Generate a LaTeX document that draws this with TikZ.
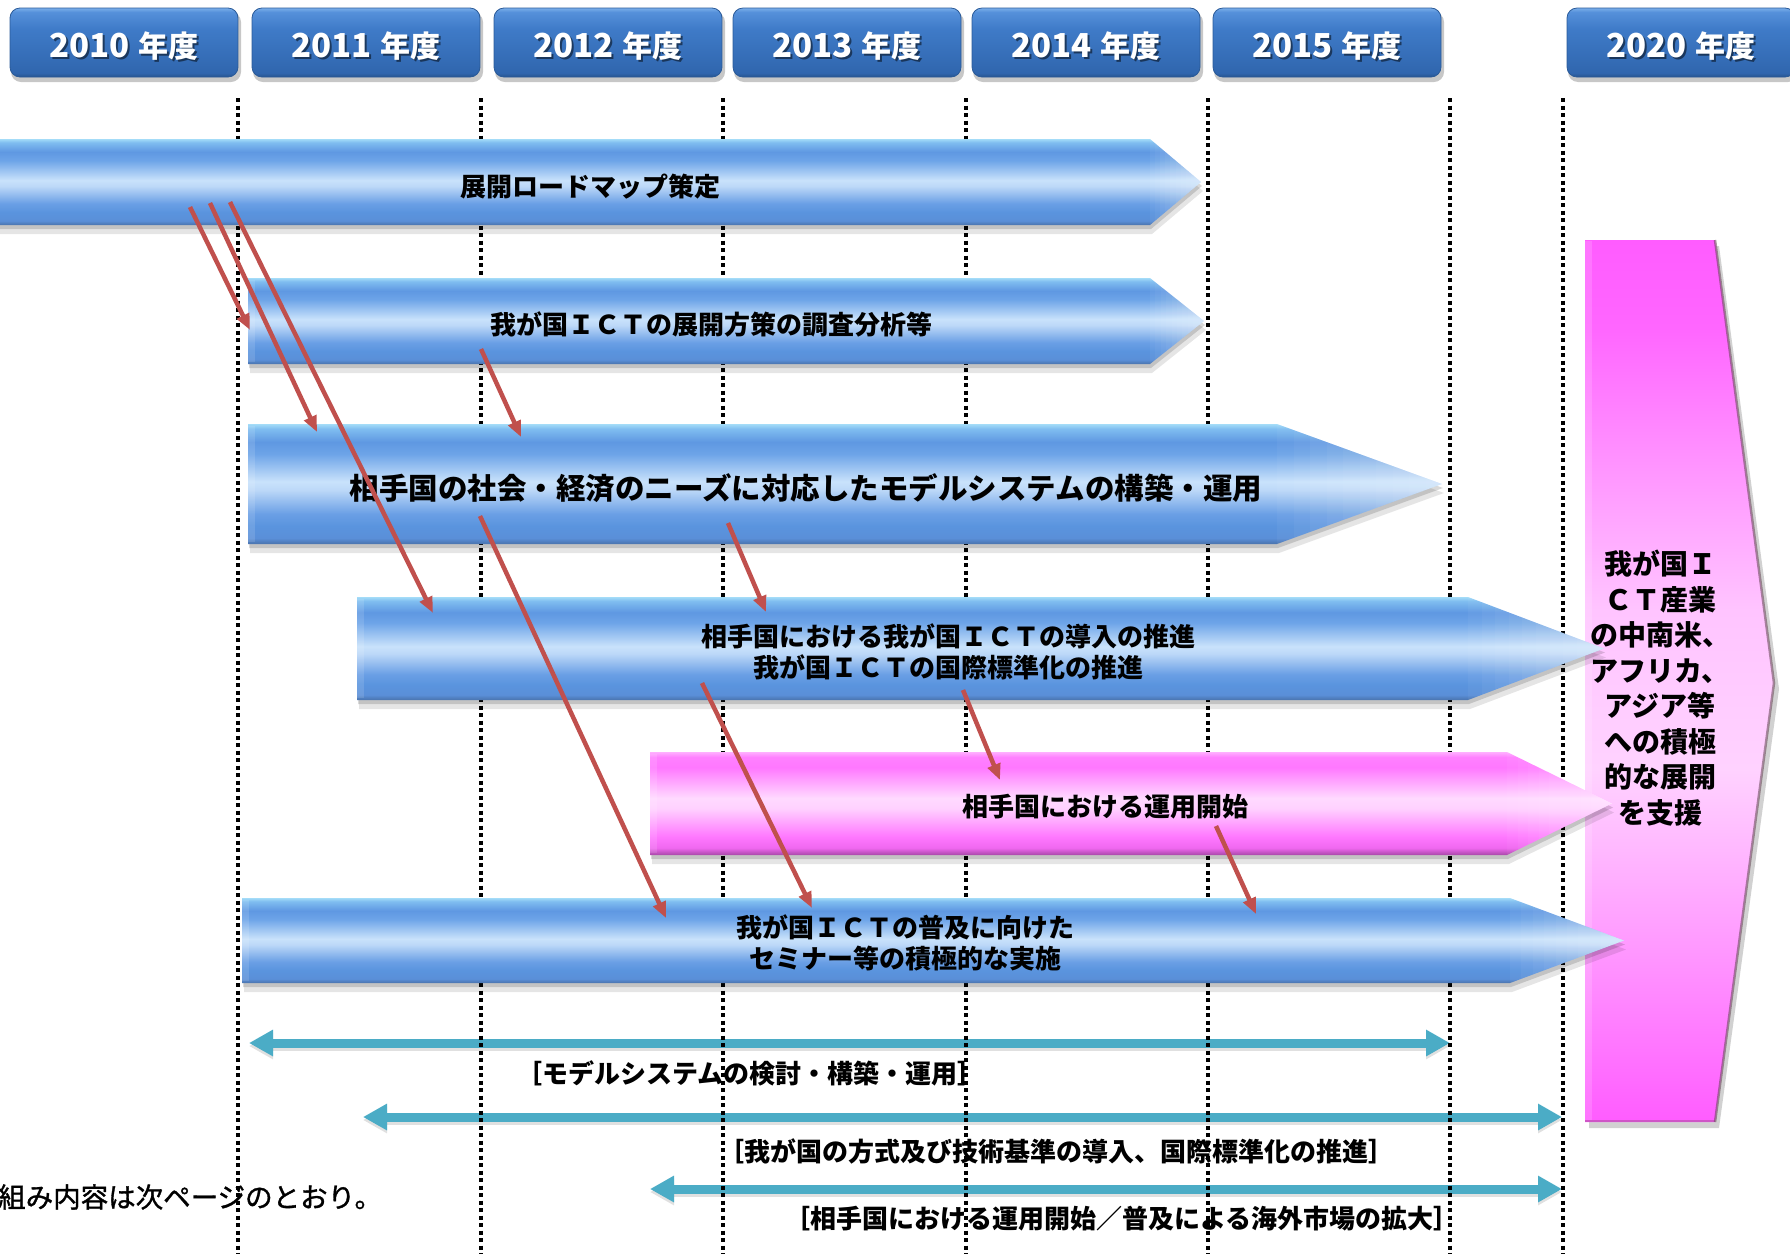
\documentclass[tikz,border=0pt]{standalone}
\usepackage{fontspec}
\newfontfamily\jp{Noto Sans CJK JP}
\newfontfamily\jpn[FakeBold=1.2]{Noto Sans CJK JP}
\usetikzlibrary{arrows.meta}
\definecolor{redc}{HTML}{C0504D}
\definecolor{cyanc}{HTML}{4BACC6}
% blue tube
\definecolor{bT}{HTML}{A4DCF8}
\definecolor{bA}{HTML}{7FBDF0}
\definecolor{bB}{HTML}{5F98E2}
\definecolor{bC}{HTML}{6DA4E8}
\definecolor{bD}{HTML}{C9E2FB}
\definecolor{bE}{HTML}{BCD8F8}
\definecolor{bF}{HTML}{6A9FE5}
\definecolor{bG}{HTML}{5A94DE}
\definecolor{bH}{HTML}{5A8FD8}
\definecolor{bZ}{HTML}{4A73AD}
\pgfdeclareverticalshading{bluetube}{100bp}{color(0bp)=(bZ); color(25bp)=(bZ); color(27.5bp)=(bH); color(32.5bp)=(bG); color(37.5bp)=(bF); color(47.5bp)=(bE); color(51bp)=(bD); color(62.5bp)=(bC); color(67.5bp)=(bB); color(73bp)=(bA); color(75bp)=(bT); color(100bp)=(bT)}
% pink tube
\definecolor{pT}{HTML}{FFB0FF}
\definecolor{pA}{HTML}{FF80FF}
\definecolor{pB}{HTML}{FF78FF}
\definecolor{pC}{HTML}{FFDAFF}
\definecolor{pD}{HTML}{FFD0FF}
\definecolor{pE}{HTML}{FF78FF}
\definecolor{pF}{HTML}{F068F0}
\definecolor{pZ}{HTML}{A848A8}
\pgfdeclareverticalshading{pinktube}{100bp}{color(0bp)=(pZ); color(25bp)=(pZ); color(28.5bp)=(pF); color(34bp)=(pE); color(47.5bp)=(pD); color(52.5bp)=(pC); color(67.5bp)=(pB); color(72.5bp)=(pA); color(75bp)=(pT); color(100bp)=(pT)}
% goal chevron
\definecolor{gA}{HTML}{FF5CFF}
\definecolor{gB}{HTML}{FF66FF}
\definecolor{gC}{HTML}{FFC4FF}
\definecolor{gD}{HTML}{FFD2FF}
\definecolor{gE}{HTML}{FF99FF}
\pgfdeclareverticalshading{goalsh}{100bp}{color(0bp)=(gA); color(25bp)=(gA); color(35bp)=(gE); color(45bp)=(gD); color(54bp)=(gC); color(70bp)=(gB); color(75bp)=(gA); color(100bp)=(gA)}
% year boxes
\definecolor{yZ}{HTML}{27548F}
\definecolor{yA}{HTML}{3066AE}
\definecolor{yB}{HTML}{3F7BC8}
\definecolor{yC}{HTML}{5590DA}
\definecolor{yT}{HTML}{7AAEEA}
\definecolor{yBd}{HTML}{2A5A98}
\pgfdeclareverticalshading{yearsh}{100bp}{color(0bp)=(yZ); color(25bp)=(yZ); color(28bp)=(yA); color(60bp)=(yB); color(72bp)=(yC); color(75bp)=(yT); color(100bp)=(yT)}

\newcommand{\blkarrow}[6]{%
  \pgfmathsetmacro\bamid{(#2+#3)/2}%
  \fill[black,opacity=.10] (#1+2,#2+9) -- (#4+2,#2+9) -- (#5+2,\bamid+9) -- (#4+2,#3+9) -- (#1+2,#3+9) -- cycle;
  \fill[black,opacity=.15] (#1+1,#2+4) -- (#4+1,#2+4) -- (#5+1,\bamid+4) -- (#4+1,#3+4) -- (#1+1,#3+4) -- cycle;
  \shade[shading=#6] (#1,#2) -- (#4,#2) -- (#5,\bamid) -- (#4,#3) -- (#1,#3) -- cycle;
  \begin{scope}
    \clip (#4,#2) -- (#5,\bamid) -- (#4,#3) -- cycle;
    \foreach \k in {0,...,9} {
      \fill[white,opacity=.04] (#4+\k*#5/10-\k*#4/10,#2) rectangle (#5,#3);
    }
  \end{scope}
  \fill[white,opacity=.12] (#1,#2+2) rectangle (#1+7,#3-2);
}
\newcommand{\yrbox}[3]{%
  \fill[black,opacity=.22,rounded corners=10pt] (#2-113,12) rectangle (#2+117,82);
  \node[yearbox] (#1) at (#2,42.5) {};
  \node[yrtxt,black,opacity=.5] at (#2+2,48) {{\fontsize{33}{33}\selectfont #3}\hspace{9pt}年度};
  \node[yrtxt,white] at (#2,46) {{\fontsize{33}{33}\selectfont #3}\hspace{9pt}年度};
}

\begin{document}
\begin{tikzpicture}[x=1pt,y=-1pt,
  gridline/.style={line width=3.5pt, dash pattern=on 4pt off 3.5pt, black},
  redarr/.style={draw=redc, line width=4.5pt, -{Triangle[length=16pt,width=13pt]}},
  cyanarr/.style={draw=cyanc, line width=9pt, {Triangle[length=24pt,width=25pt]}-{Triangle[length=24pt,width=25pt]}},
  cyanshadow/.style={draw=black, opacity=.12, line width=9pt, {Triangle[length=24pt,width=25pt]}-{Triangle[length=24pt,width=25pt]}},
  bt/.style={font=\jp\bfseries\fontsize{26}{31.5}\selectfont, align=center, inner sep=0pt},
  btbig/.style={font=\jp\bfseries\fontsize{29.5}{33}\selectfont, align=center, inner sep=0pt},
  lbl/.style={font=\jp\bfseries\fontsize{26}{28}\selectfont, inner sep=0pt},
  yearbox/.style={rectangle, rounded corners=10pt, minimum width=228pt, minimum height=69pt, inner sep=0pt, shading=yearsh, draw=yBd, line width=0.8pt},
  yrtxt/.style={font=\jp\bfseries\fontsize{30}{30}\selectfont, inner sep=0pt},
  goaltxt/.style={font=\jp\bfseries\fontsize{28}{35.5}\selectfont, align=center, inner sep=0pt},
  note/.style={font=\jpn\fontsize{27.5}{30}\selectfont, inner sep=0pt, anchor=west}
]
\useasboundingbox (0,0) rectangle (1790,1254);

% ---- range labels and bottom note
\node[lbl] (la) at (750,1073) {［モデルシステムの検討・構築・運用］};
\node[lbl] (lb) at (1056,1151) {［我が国の方式及び技術基準の導入、国際標準化の推進］};
\node[lbl] (lc) at (1122,1219) {［相手国における運用開始／普及による海外市場の拡大］};
\node[note] (nt) at (-2,1197) {組み内容は次ページのとおり。};

% ---- cyan range arrows
\coordinate (ca1) at (249,1043); \coordinate (ca2) at (1450,1043);
\coordinate (cb1) at (363,1117); \coordinate (cb2) at (1562,1117);
\coordinate (cc1) at (650,1189); \coordinate (cc2) at (1562,1189);
\draw[cyanshadow] ([yshift=-3pt]ca1) -- ([yshift=-3pt]ca2);
\draw[cyanshadow] ([yshift=-3pt]cb1) -- ([yshift=-3pt]cb2);
\draw[cyanshadow] ([yshift=-3pt]cc1) -- ([yshift=-3pt]cc2);
\draw[cyanarr] (ca1) -- (ca2);
\draw[cyanarr] (cb1) -- (cb2);
\draw[cyanarr] (cc1) -- (cc2);

% ---- dotted year separators
\foreach \gx in {238,481,723,966,1208,1450,1563} {
  \draw[gridline] (\gx,98) -- (\gx,1254);
}

% ---- year headers
\yrbox{y2010}{124}{2010}
\yrbox{y2011}{366}{2011}
\yrbox{y2012}{608}{2012}
\yrbox{y2013}{847}{2013}
\yrbox{y2014}{1086}{2014}
\yrbox{y2015}{1327}{2015}
\yrbox{y2020}{1681}{2020}

% ---- goal chevron
\fill[black,opacity=.18] (1589,246) -- (1719,246) -- (1779,689) -- (1719,1128) -- (1589,1128) -- cycle;
\shade[shading=goalsh] (1585,240) -- (1715,240) -- (1774,683) -- (1715,1122) -- (1585,1122) -- cycle;
\draw[line width=2.5pt, draw=black!70!magenta, opacity=.55] (1715,240) -- (1774,683) -- (1715,1122);
\draw[line width=2pt, draw=black!60!magenta, opacity=.35] (1585,1121) -- (1715,1121);
\fill[white,opacity=.15] (1585,241) rectangle (1592,1120);
\node[goaltxt] (goal) at (1660,688) {我が国Ｉ\\ＣＴ産業\\の中南米、\\アフリカ、\\アジア等\\への積極\\的な展開\\を支援};

% ---- block arrows
\blkarrow{-8}{139}{225}{1150}{1201}{bluetube}
\blkarrow{248}{278}{364}{1150}{1204}{bluetube}
\blkarrow{248}{424}{544}{1277}{1442}{bluetube}
\blkarrow{357}{597}{700}{1468}{1604}{bluetube}
\blkarrow{650}{752}{855}{1507}{1612}{pinktube}
\blkarrow{242}{898}{983}{1510}{1624}{bluetube}

\node[bt] (t1) at (590,187) {展開ロードマップ策定};
\node[bt] (t2) at (711,324) {我が国ＩＣＴの展開方策の調査分析等};
\node[btbig] (t3) at (806,488) {相手国の社会・経済のニーズに対応したモデルシステムの構築・運用};
\node[bt] (t4) at (948,652) {相手国における我が国ＩＣＴの導入の推進\\我が国ＩＣＴの国際標準化の推進};
\node[bt] (t5) at (1105,807) {相手国における運用開始};
\node[bt] (t6) at (905,943) {我が国ＩＣＴの普及に向けた\\セミナー等の積極的な実施};

% ---- red dependency arrows
\coordinate (ra1) at (190,207); \coordinate (ra2) at (250,330);
\coordinate (rb1) at (210,203); \coordinate (rb2) at (317,432);
\coordinate (rc1) at (230,202); \coordinate (rc2) at (433,613);
\coordinate (rd1) at (481,349); \coordinate (rd2) at (521,437);
\coordinate (re1) at (480,516); \coordinate (re2) at (666,918);
\coordinate (rf1) at (728,523); \coordinate (rf2) at (766,612);
\coordinate (rg1) at (702,683); \coordinate (rg2) at (812,908);
\coordinate (rh1) at (963,690); \coordinate (rh2) at (1000,780);
\coordinate (ri1) at (1216,826); \coordinate (ri2) at (1256,914);
\draw[redarr] (ra1) -- (ra2);
\draw[redarr] (rb1) -- (rb2);
\draw[redarr] (rc1) -- (rc2);
\draw[redarr] (rd1) -- (rd2);
\draw[redarr] (re1) -- (re2);
\draw[redarr] (rf1) -- (rf2);
\draw[redarr] (rg1) -- (rg2);
\draw[redarr] (rh1) -- (rh2);
\draw[redarr] (ri1) -- (ri2);
\end{tikzpicture}
\end{document}
